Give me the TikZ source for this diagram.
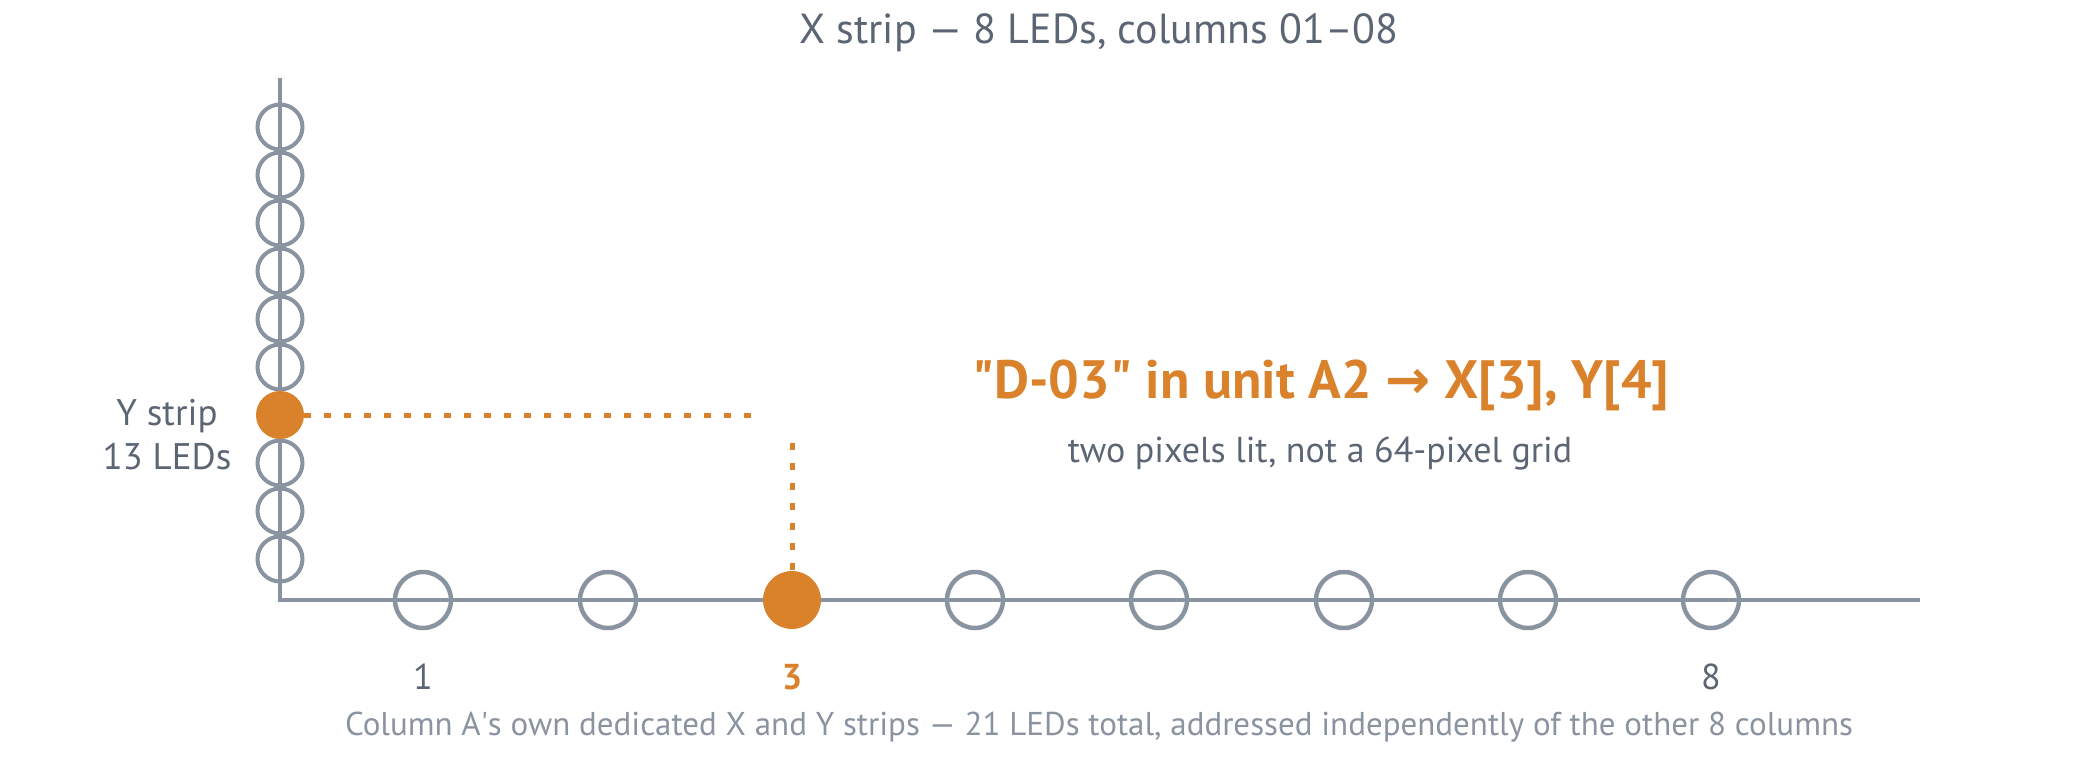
\documentclass[tikz,border=0pt]{standalone}
\usepackage{fontspec}
\setmainfont{PT Sans}
\newfontfamily\arrowfont{DejaVu Sans}
\usetikzlibrary{positioning}

\definecolor{ledorange}{RGB}{217,130,43}
\definecolor{ledgray}{RGB}{138,147,160}
\definecolor{inkgray}{RGB}{91,101,115}

\tikzset{
  ledoff/.style={circle,draw=ledgray,line width=4pt,inner sep=0pt},
  ledon/.style={circle,fill=ledorange,inner sep=0pt},
  dotlink/.style={draw=ledorange,line width=5pt,dash pattern=on 7pt off 13pt},
  plain/.style={text=inkgray,inner sep=0pt,font=\fontsize{36}{42}\selectfont}
}

\begin{document}
\begin{tikzpicture}[x=1pt,y=-1pt]
\useasboundingbox (0,0) rectangle (2080,760);

% axes
\coordinate (O) at (280,600);
\coordinate (Ytop) at (280,78);
\coordinate (Xend) at (1920,600);
\draw[ledgray,line width=4.5pt] (Ytop) -- (O) -- (Xend);

% Y strip
\begin{scope}[every node/.style={ledoff,minimum size=45pt}]
    \node (Y1) at (280,127) {};
    \node (Y2) at (280,175) {};
    \node (Y3) at (280,223) {};
    \node (Y4) at (280,271) {};
    \node (Y5) at (280,319) {};
    \node (Y6) at (280,367) {};
    \node (Y8) at (280,463) {};
    \node (Y9) at (280,511) {};
    \node (Y10) at (280,559) {};
\end{scope}
\node[ledon,minimum size=48pt] (Yon) at (280,415) {};

% X strip
\begin{scope}[every node/.style={ledoff,minimum size=56pt,line width=4.5pt}]
    \node (X1) at (423,600) {};
    \node (X2) at (608,600) {};
    \node (X4) at (975,600) {};
    \node (X5) at (1159,600) {};
    \node (X6) at (1344,600) {};
    \node (X7) at (1528,600) {};
    \node (X8) at (1711,600) {};
\end{scope}
\node[ledon,minimum size=58pt] (Xon) at (792,600) {};

% lit pixel guides
\coordinate (Hend) at (751,415);
\coordinate (Vtop) at (792,443);
\path[dotlink] (Yon.east) -- (Hend);
\path[dotlink] (Vtop) -- (Xon.north);

% texts
\node[plain,font=\fontsize{42}{48}\selectfont] (title) at (1099,33)
    {X strip — 8 LEDs, columns 01–08};
\node[plain,text=ledorange,font=\fontsize{54}{62}\selectfont\bfseries] (head) at (1321,385)
    {\textquotedbl D-03\textquotedbl{} in unit A2 {\arrowfont →} X[3], Y[4]};
\node[plain] (sub) at (1320,453) {two pixels lit, not a 64-pixel grid};
\node[plain,align=center,font=\fontsize{37}{44}\selectfont] (ylab) at (167,435)
    {Y strip\\13 LEDs};
\node[plain] (t1) at (423,677) {1};
\node[plain,text=ledorange,font=\fontsize{36}{42}\selectfont\bfseries] (t3) at (792,677) {3};
\node[plain] (t8) at (1711,677) {8};
\node[plain,text=ledgray,font=\fontsize{33}{38}\selectfont] (note) at (1099,727)
    {Column A\textquotesingle s own dedicated X and Y strips — 21 LEDs total, addressed independently of the other 8 columns};
\end{tikzpicture}
\end{document}
